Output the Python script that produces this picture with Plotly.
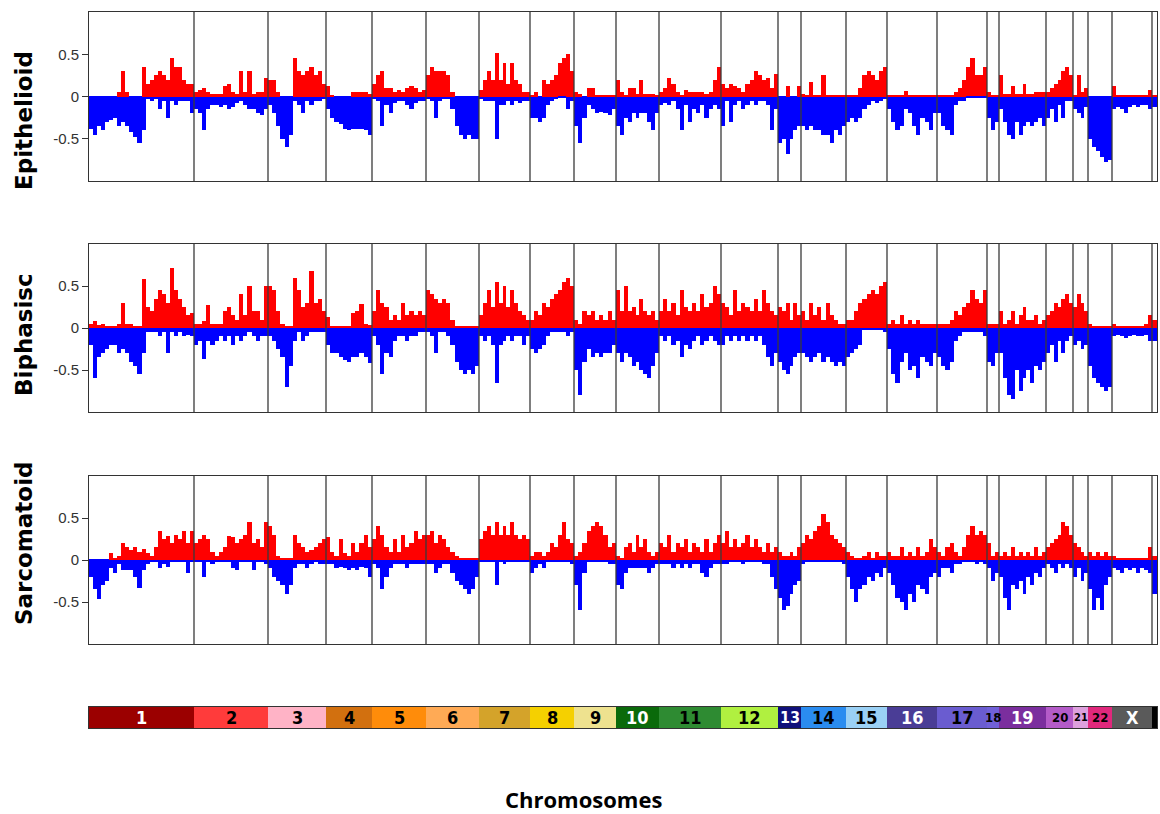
import plotly.graph_objects as go
from plotly.subplots import make_subplots

# ---------------- data ----------------
chromosomes = ["1", "2", "3", "4", "5", "6", "7", "8", "9", "10", "11", "12",
               "13", "14", "15", "16", "17", "18", "19", "20", "21", "22", "X", "Y"]
# relative length of each chromosome along the genome axis (probe units)
chrom_len = [105, 74, 58, 46, 54, 53, 51, 44, 42, 43, 62, 57,
             23, 45, 41, 50, 50, 12, 47, 27, 15, 24, 40, 5]
band_colors = ["#9B0000", "#FF3B3B", "#FFB3C6", "#D2700F", "#FF8C0A", "#FFAA55",
               "#D4A32A", "#F5D000", "#EEE28F", "#0A6A0A", "#2E8B32", "#B0F040",
               "#10107A", "#2A8CF0", "#9AD0F5", "#4A3D96", "#6A5CD0", "#7060D8",
               "#7B2E9E", "#B45BC8", "#DDA0DD", "#E0287C", "#5A5A5A", "#000000"]
band_labels = ["1", "2", "3", "4", "5", "6", "7", "8", "9", "10", "11", "12",
               "13", "14", "15", "16", "17", "18", "19", "20", "21", "22", "X", ""]
band_label_colors = ["white", "black", "black", "black", "black", "black", "black",
                     "black", "black", "white", "black", "black", "white", "black",
                     "black", "white", "black", "black", "white", "black", "black",
                     "black", "white", "white"]
band_label_sizes = [18, 18, 18, 18, 18, 18, 18, 18, 18, 18, 18, 18,
                    16, 18, 18, 18, 18, 13, 18, 13, 11, 13, 18, 18]

panel_names = ["Epithelioid", "Biphasisc", "Sarcomatoid"]
y_ticks = [-0.5, 0, 0.5]
y_tick_text = ["-0.5", "0", "0.5"]

# Epithelioid: per-chromosome gain / loss frequencies
epi_gain = [
    [0, 0, 0, 0, 0, 0, 0, 0.05, 0.3, 0.05, 0, 0, 0, 0.35, 0.15, 0.2, 0.25, 0.3, 0.25, 0.2, 0.45, 0.35, 0.35, 0.2, 0.15, 0.15],
    [0.05, 0.08, 0.1, 0.05, 0.03, 0.03, 0.03, 0.12, 0.15, 0.05, 0.03, 0.3, 0.05, 0.3, 0.03, 0.05, 0.05, 0.22],
    [0.2, 0.2, 0.05, 0, 0, 0, 0.45, 0.3, 0.25, 0.3, 0.35, 0.25, 0.3, 0.15],
    [0.12, 0.02, 0, 0, 0, 0, 0.05, 0.05, 0.05, 0.05, 0.03],
    [0.15, 0.25, 0.3, 0.1, 0.1, 0.05, 0.08, 0.05, 0.1, 0.12, 0.1, 0.05, 0.08],
    [0.25, 0.35, 0.3, 0.3, 0.3, 0.25, 0.05, 0, 0, 0, 0, 0, 0],
    [0.08, 0.2, 0.3, 0.2, 0.52, 0.2, 0.4, 0.15, 0.4, 0.2, 0.15, 0.05, 0.05],
    [0.02, 0.05, 0, 0.2, 0.15, 0.2, 0.25, 0.4, 0.45, 0.5, 0.3],
    [0.05, 0.03, 0, 0.1, 0.1, 0.02, 0.02, 0.02, 0.02, 0.02],
    [0.2, 0.05, 0.02, 0.1, 0.1, 0.03, 0.2, 0.03, 0.03, 0.03, 0.02],
    [0.05, 0.1, 0.22, 0.15, 0.05, 0.02, 0.08, 0.05, 0.05, 0.05, 0.05, 0.03, 0.05, 0.2, 0.35],
    [0.15, 0.1, 0.15, 0.12, 0.1, 0.05, 0.15, 0.2, 0.3, 0.25, 0.2, 0.22, 0.1, 0.27],
    [0, 0, 0.12, 0, 0, 0.12],
    [0.03, 0.02, 0.17, 0.02, 0.02, 0.25, 0.02, 0.02, 0.02, 0.02, 0.02],
    [0.02, 0.02, 0.02, 0.1, 0.25, 0.3, 0.25, 0.2, 0.3, 0.35],
    [0.02, 0.02, 0.02, 0.02, 0.07, 0.02, 0.02, 0.02, 0.02, 0.02, 0.02, 0.02],
    [0.02, 0.02, 0.02, 0.02, 0.05, 0.1, 0.2, 0.35, 0.45, 0.25, 0.25, 0.35],
    [0.05, 0.02, 0.02],
    [0.25, 0.03, 0.03, 0.12, 0.03, 0.03, 0.15, 0.03, 0.03, 0.05, 0.05, 0.05],
    [0.05, 0.1, 0.15, 0.2, 0.3, 0.35, 0.25],
    [0.02, 0.25, 0.05, 0.1],
    [0, 0, 0, 0, 0, 0],
    [0.12, 0.02, 0.02, 0.02, 0.02, 0.02, 0.02, 0.02, 0.02, 0.08],
    [0.02],
]
epi_loss = [
    [-0.38, -0.45, -0.35, -0.4, -0.3, -0.28, -0.25, -0.35, -0.3, -0.35, -0.42, -0.48, -0.55, -0.4, -0.03, -0.05, -0.03, -0.15, -0.05, -0.25, -0.05, -0.1, -0.05, -0.05, -0.05, -0.2],
    [-0.15, -0.2, -0.4, -0.15, -0.1, -0.1, -0.12, -0.1, -0.15, -0.12, -0.08, -0.05, -0.1, -0.15, -0.15, -0.2, -0.22, -0.15],
    [-0.1, -0.2, -0.35, -0.5, -0.6, -0.45, -0.05, -0.1, -0.2, -0.05, -0.1, -0.05, -0.05, -0.03],
    [-0.15, -0.25, -0.3, -0.33, -0.38, -0.4, -0.38, -0.38, -0.38, -0.4, -0.45],
    [-0.03, -0.05, -0.35, -0.1, -0.2, -0.08, -0.05, -0.05, -0.1, -0.15, -0.08, -0.05, -0.05],
    [-0.03, -0.05, -0.25, -0.05, -0.03, -0.03, -0.15, -0.35, -0.45, -0.5, -0.45, -0.5, -0.5],
    [-0.03, -0.05, -0.05, -0.05, -0.5, -0.1, -0.1, -0.05, -0.1, -0.05, -0.08, -0.05, -0.05],
    [-0.25, -0.25, -0.3, -0.25, -0.1, -0.05, -0.03, -0.02, -0.02, -0.15, -0.05],
    [-0.35, -0.55, -0.25, -0.1, -0.15, -0.2, -0.18, -0.2, -0.22, -0.15],
    [-0.35, -0.45, -0.25, -0.3, -0.2, -0.25, -0.2, -0.2, -0.3, -0.4, -0.2],
    [-0.1, -0.08, -0.1, -0.05, -0.15, -0.4, -0.1, -0.3, -0.15, -0.2, -0.1, -0.25, -0.15, -0.1, -0.15],
    [-0.35, -0.05, -0.3, -0.1, -0.05, -0.15, -0.1, -0.05, -0.1, -0.05, -0.05, -0.1, -0.4, -0.15],
    [-0.55, -0.5, -0.68, -0.5, -0.4, -0.35],
    [-0.35, -0.4, -0.35, -0.4, -0.4, -0.45, -0.45, -0.55, -0.4, -0.45, -0.35],
    [-0.3, -0.25, -0.3, -0.25, -0.15, -0.1, -0.05, -0.08, -0.05, -0.03],
    [-0.15, -0.3, -0.4, -0.35, -0.15, -0.2, -0.35, -0.45, -0.25, -0.3, -0.4, -0.2],
    [-0.2, -0.35, -0.4, -0.45, -0.1, -0.05, -0.05, -0.02, -0.02, -0.02, -0.02, -0.02],
    [-0.25, -0.4, -0.3],
    [-0.15, -0.3, -0.45, -0.5, -0.3, -0.45, -0.35, -0.3, -0.35, -0.3, -0.25, -0.35],
    [-0.25, -0.15, -0.3, -0.1, -0.25, -0.05, -0.05],
    [-0.15, -0.2, -0.25, -0.12],
    [-0.5, -0.6, -0.65, -0.72, -0.78, -0.75],
    [-0.15, -0.12, -0.15, -0.2, -0.12, -0.1, -0.12, -0.1, -0.1, -0.15],
    [-0.12],
]

# Biphasic
bi_gain = [
    [0.05, 0.08, 0.03, 0.05, 0.02, 0.02, 0.02, 0.05, 0.3, 0.05, 0.05, 0.02, 0.02, 0.58, 0.25, 0.2, 0.35, 0.45, 0.4, 0.3, 0.72, 0.45, 0.35, 0.25, 0.15, 0.18],
    [0.05, 0.05, 0.08, 0.27, 0.05, 0.05, 0.05, 0.2, 0.25, 0.15, 0.1, 0.4, 0.15, 0.5, 0.2, 0.2, 0.1, 0.5],
    [0.5, 0.45, 0.2, 0.05, 0.02, 0.02, 0.6, 0.45, 0.25, 0.3, 0.68, 0.3, 0.35, 0.2],
    [0.13, 0.02, 0.02, 0.02, 0.02, 0.02, 0.18, 0.2, 0.28, 0.05, 0.03],
    [0.2, 0.45, 0.3, 0.25, 0.1, 0.15, 0.1, 0.3, 0.15, 0.2, 0.15, 0.2, 0.15],
    [0.45, 0.4, 0.35, 0.3, 0.35, 0.3, 0.1, 0.02, 0.02, 0.02, 0.02, 0.02, 0.02],
    [0.15, 0.3, 0.45, 0.25, 0.55, 0.3, 0.5, 0.25, 0.45, 0.3, 0.2, 0.15, 0.1],
    [0.1, 0.2, 0.15, 0.3, 0.25, 0.35, 0.4, 0.45, 0.55, 0.6, 0.5],
    [0.1, 0.05, 0.2, 0.15, 0.2, 0.1, 0.15, 0.1, 0.2, 0.1],
    [0.45, 0.2, 0.5, 0.2, 0.25, 0.15, 0.35, 0.2, 0.15, 0.2, 0.1],
    [0.2, 0.35, 0.2, 0.3, 0.15, 0.45, 0.25, 0.2, 0.3, 0.2, 0.4, 0.25, 0.3, 0.5, 0.4],
    [0.3, 0.25, 0.15, 0.45, 0.2, 0.3, 0.25, 0.2, 0.35, 0.2, 0.45, 0.3, 0.2, 0.15],
    [0.25, 0.2, 0.3, 0.1, 0.3, 0.15],
    [0.2, 0.1, 0.3, 0.15, 0.25, 0.1, 0.3, 0.15, 0.1, 0.05, 0.05],
    [0.1, 0.1, 0.2, 0.3, 0.35, 0.4, 0.45, 0.4, 0.5, 0.55],
    [0.05, 0.1, 0.05, 0.15, 0.05, 0.1, 0.05, 0.1, 0.05, 0.05, 0.05, 0.05],
    [0.05, 0.05, 0.05, 0.1, 0.2, 0.15, 0.25, 0.3, 0.45, 0.35, 0.3, 0.45],
    [0.05, 0.05, 0.05],
    [0.2, 0.05, 0.1, 0.2, 0.05, 0.15, 0.25, 0.1, 0.1, 0.15, 0.05, 0.1],
    [0.15, 0.2, 0.3, 0.25, 0.35, 0.4, 0.3],
    [0.25, 0.4, 0.3, 0.2],
    [0.05, 0.02, 0.02, 0.02, 0.02, 0.02],
    [0.05, 0.02, 0.02, 0.02, 0.02, 0.02, 0.02, 0.02, 0.05, 0.15],
    [0.1],
]
bi_loss = [
    [-0.2, -0.6, -0.35, -0.3, -0.25, -0.2, -0.2, -0.3, -0.25, -0.3, -0.4, -0.45, -0.55, -0.3, -0.05, -0.05, -0.05, -0.1, -0.05, -0.3, -0.05, -0.1, -0.05, -0.1, -0.08, -0.1],
    [-0.2, -0.15, -0.37, -0.15, -0.2, -0.15, -0.1, -0.15, -0.1, -0.2, -0.1, -0.15, -0.1, -0.05, -0.1, -0.15, -0.1, -0.1],
    [-0.1, -0.15, -0.25, -0.35, -0.7, -0.45, -0.15, -0.05, -0.15, -0.1, -0.05, -0.05, -0.05, -0.05],
    [-0.2, -0.3, -0.3, -0.35, -0.38, -0.4, -0.35, -0.35, -0.3, -0.35, -0.42],
    [-0.1, -0.2, -0.55, -0.3, -0.35, -0.15, -0.1, -0.1, -0.15, -0.1, -0.1, -0.05, -0.05],
    [-0.05, -0.1, -0.3, -0.05, -0.05, -0.1, -0.2, -0.4, -0.5, -0.55, -0.5, -0.55, -0.45],
    [-0.1, -0.15, -0.1, -0.2, -0.65, -0.2, -0.15, -0.1, -0.15, -0.1, -0.1, -0.2, -0.1],
    [-0.25, -0.3, -0.25, -0.2, -0.1, -0.05, -0.05, -0.05, -0.05, -0.1, -0.05],
    [-0.5, -0.8, -0.4, -0.25, -0.35, -0.3, -0.35, -0.3, -0.3, -0.2],
    [-0.3, -0.4, -0.3, -0.35, -0.45, -0.4, -0.5, -0.55, -0.6, -0.45, -0.3],
    [-0.1, -0.15, -0.1, -0.2, -0.15, -0.35, -0.2, -0.25, -0.15, -0.1, -0.2, -0.15, -0.1, -0.15, -0.2],
    [-0.2, -0.1, -0.15, -0.1, -0.15, -0.1, -0.15, -0.1, -0.15, -0.1, -0.2, -0.35, -0.45, -0.3],
    [-0.4, -0.5, -0.55, -0.45, -0.35, -0.3],
    [-0.3, -0.35, -0.4, -0.35, -0.3, -0.4, -0.35, -0.4, -0.45, -0.4, -0.45],
    [-0.35, -0.3, -0.25, -0.2, -0.02, -0.02, -0.02, -0.02, -0.02, -0.05],
    [-0.25, -0.55, -0.65, -0.4, -0.3, -0.5, -0.45, -0.6, -0.35, -0.4, -0.45, -0.3],
    [-0.35, -0.45, -0.5, -0.4, -0.15, -0.1, -0.05, -0.05, -0.05, -0.05, -0.05, -0.1],
    [-0.4, -0.45, -0.3],
    [-0.3, -0.6, -0.8, -0.85, -0.5, -0.75, -0.6, -0.5, -0.65, -0.45, -0.5, -0.4],
    [-0.3, -0.2, -0.4, -0.15, -0.3, -0.15, -0.1],
    [-0.2, -0.15, -0.25, -0.2],
    [-0.45, -0.6, -0.65, -0.7, -0.75, -0.7],
    [-0.1, -0.08, -0.1, -0.12, -0.1, -0.08, -0.1, -0.1, -0.08, -0.15],
    [-0.15],
]

# Sarcomatoid
sar_gain = [
    [0, 0, 0, 0, 0, 0.08, 0.02, 0.05, 0.2, 0.15, 0.12, 0.15, 0.1, 0.13, 0.08, 0.05, 0.15, 0.35, 0.25, 0.28, 0.2, 0.3, 0.25, 0.35, 0.2, 0.35],
    [0.2, 0.25, 0.3, 0.25, 0.1, 0.05, 0.1, 0.15, 0.28, 0.27, 0.2, 0.25, 0.3, 0.45, 0.2, 0.25, 0.15, 0.45],
    [0.4, 0.3, 0.05, 0.02, 0.02, 0.02, 0.3, 0.2, 0.15, 0.1, 0.12, 0.15, 0.2, 0.25],
    [0.27, 0.1, 0.05, 0.25, 0.08, 0.05, 0.2, 0.1, 0.2, 0.3, 0.15],
    [0.25, 0.4, 0.3, 0.15, 0.1, 0.25, 0.1, 0.3, 0.15, 0.2, 0.35, 0.25, 0.3],
    [0.3, 0.35, 0.2, 0.3, 0.25, 0.15, 0.1, 0.05, 0.02, 0.02, 0.02, 0.02, 0.02],
    [0.25, 0.35, 0.4, 0.3, 0.45, 0.3, 0.4, 0.3, 0.45, 0.3, 0.25, 0.3, 0.25],
    [0.05, 0.1, 0.1, 0.05, 0.1, 0.2, 0.15, 0.3, 0.45, 0.25, 0.2],
    [0.05, 0.1, 0.2, 0.35, 0.4, 0.45, 0.4, 0.3, 0.15, 0.2],
    [0.05, 0.02, 0.15, 0.2, 0.1, 0.3, 0.15, 0.25, 0.1, 0.05, 0.1],
    [0.2, 0.15, 0.3, 0.1, 0.2, 0.15, 0.25, 0.1, 0.2, 0.15, 0.1, 0.25, 0.1, 0.2, 0.3],
    [0.2, 0.35, 0.15, 0.25, 0.15, 0.2, 0.3, 0.15, 0.25, 0.15, 0.1, 0.2, 0.1, 0.15],
    [0.1, 0.05, 0.05, 0.1, 0.05, 0.15],
    [0.2, 0.3, 0.25, 0.35, 0.4, 0.55, 0.45, 0.3, 0.25, 0.2, 0.15],
    [0.1, 0.05, 0.02, 0.02, 0.05, 0.1, 0.02, 0.1, 0.05, 0.05],
    [0.1, 0.05, 0.05, 0.15, 0.05, 0.1, 0.05, 0.15, 0.05, 0.1, 0.25, 0.15],
    [0.1, 0.05, 0.15, 0.2, 0.1, 0.05, 0.15, 0.3, 0.4, 0.3, 0.35, 0.3],
    [0.2, 0.05, 0.1],
    [0.05, 0.1, 0.05, 0.15, 0.05, 0.1, 0.05, 0.1, 0.05, 0.15, 0.05, 0.1],
    [0.15, 0.2, 0.25, 0.3, 0.45, 0.4, 0.3],
    [0.2, 0.15, 0.1, 0.05],
    [0.1, 0.05, 0.1, 0.05, 0.1, 0.05],
    [0.05, 0.02, 0.02, 0.02, 0.02, 0.02, 0.02, 0.02, 0.02, 0.15],
    [0.05],
]
sar_loss = [
    [-0.2, -0.35, -0.47, -0.3, -0.25, -0.1, -0.15, -0.05, -0.12, -0.12, -0.12, -0.2, -0.33, -0.12, -0.05, -0.02, -0.02, -0.1, -0.05, -0.08, -0.02, -0.02, -0.02, -0.02, -0.15, -0.02],
    [-0.02, -0.02, -0.2, -0.02, -0.05, -0.02, -0.02, -0.02, -0.02, -0.1, -0.12, -0.02, -0.02, -0.02, -0.12, -0.02, -0.02, -0.05],
    [-0.1, -0.2, -0.25, -0.3, -0.4, -0.3, -0.1, -0.05, -0.05, -0.1, -0.05, -0.02, -0.05, -0.05],
    [-0.05, -0.05, -0.1, -0.08, -0.1, -0.12, -0.1, -0.12, -0.08, -0.1, -0.2],
    [-0.05, -0.1, -0.35, -0.2, -0.1, -0.05, -0.05, -0.05, -0.1, -0.05, -0.05, -0.05, -0.05],
    [-0.05, -0.05, -0.15, -0.1, -0.05, -0.05, -0.15, -0.25, -0.3, -0.35, -0.4, -0.35, -0.2],
    [-0.02, -0.02, -0.02, -0.02, -0.3, -0.02, -0.05, -0.02, -0.02, -0.02, -0.02, -0.02, -0.02],
    [-0.15, -0.1, -0.05, -0.1, -0.02, -0.02, -0.02, -0.02, -0.02, -0.02, -0.05],
    [-0.3, -0.6, -0.15, -0.02, -0.02, -0.02, -0.02, -0.02, -0.05, -0.05],
    [-0.3, -0.35, -0.15, -0.1, -0.1, -0.1, -0.1, -0.1, -0.15, -0.1, -0.05],
    [-0.05, -0.05, -0.05, -0.1, -0.05, -0.1, -0.05, -0.1, -0.05, -0.05, -0.15, -0.2, -0.1, -0.05, -0.05],
    [-0.05, -0.05, -0.02, -0.02, -0.02, -0.05, -0.02, -0.02, -0.02, -0.02, -0.05, -0.05, -0.2, -0.35],
    [-0.45, -0.6, -0.55, -0.4, -0.3, -0.25],
    [-0.05, -0.02, -0.02, -0.02, -0.02, -0.02, -0.02, -0.02, -0.02, -0.02, -0.05],
    [-0.2, -0.35, -0.5, -0.35, -0.3, -0.2, -0.25, -0.15, -0.2, -0.1],
    [-0.15, -0.3, -0.45, -0.5, -0.6, -0.4, -0.5, -0.3, -0.35, -0.4, -0.2, -0.15],
    [-0.2, -0.1, -0.1, -0.15, -0.05, -0.05, -0.02, -0.02, -0.02, -0.05, -0.02, -0.05],
    [-0.1, -0.25, -0.15],
    [-0.2, -0.45, -0.6, -0.3, -0.35, -0.25, -0.4, -0.2, -0.3, -0.15, -0.2, -0.1],
    [-0.05, -0.1, -0.15, -0.05, -0.1, -0.05, -0.1],
    [-0.2, -0.1, -0.25, -0.15],
    [-0.35, -0.6, -0.45, -0.6, -0.3, -0.2],
    [-0.1, -0.12, -0.15, -0.1, -0.12, -0.1, -0.15, -0.1, -0.12, -0.15],
    [-0.4],
]

panels = [(epi_gain, epi_loss), (bi_gain, bi_loss), (sar_gain, sar_loss)]

# ---------------- geometry helpers ----------------
starts = []
acc = 0
for L in chrom_len:
    starts.append(acc)
    acc += L
genome_len = acc
centers = [s + L / 2 for s, L in zip(starts, chrom_len)]


def binned(values_by_chrom):
    xs, ws, ys = [], [], []
    for c, vals in enumerate(values_by_chrom):
        w = chrom_len[c] / len(vals)
        for i, v in enumerate(vals):
            xs.append(starts[c] + (i + 0.5) * w)
            ws.append(w)
            ys.append(v)
    return xs, ws, ys


W, H = 1160, 814
m_l, m_r, m_t, m_b = 89, 3, 12, 86
ph = H - m_t - m_b


def dom(top_px, bot_px):
    return [(H - m_b - bot_px) / ph, (H - m_b - top_px) / ph]


domains = [dom(12, 181), dom(244, 412), dom(476, 644), dom(707, 728)]

fig = make_subplots(rows=4, cols=1, shared_xaxes=True, vertical_spacing=0.02)

for r, (g, l) in enumerate(panels, start=1):
    gx, gw, gy = binned(g)
    lx, lw, ly = binned(l)
    fig.add_trace(go.Bar(x=gx, y=gy, width=gw, marker=dict(color="#FF0000", line=dict(width=0)),
                         showlegend=False, hoverinfo="skip"), row=r, col=1)
    fig.add_trace(go.Bar(x=lx, y=ly, width=lw, marker=dict(color="#0000FF", line=dict(width=0)),
                         showlegend=False, hoverinfo="skip"), row=r, col=1)
    for s in starts[1:]:
        fig.add_vline(x=s, line=dict(color="#3a3a3a", width=1.3), row=r, col=1)

# chromosome colour band
fig.add_trace(go.Bar(x=centers, y=[1] * len(centers), width=chrom_len,
                     marker=dict(color=band_colors, line=dict(width=0)),
                     showlegend=False, hoverinfo="skip"), row=4, col=1)

for i in range(4):
    sfx = "" if i == 0 else str(i + 1)
    fig.layout["xaxis" + sfx].update(domain=[0, 1], range=[0, genome_len], showticklabels=False,
                                     ticks="", showgrid=False, zeroline=False, showline=True,
                                     mirror=True, linecolor="#333333", linewidth=1)
    ya = dict(domain=domains[i], showgrid=False, showline=True, mirror=True,
              linecolor="#333333", linewidth=1)
    if i < 3:
        ya.update(range=[-1, 1], tickvals=y_ticks, ticktext=y_tick_text, ticks="outside",
                  ticklen=6, tickcolor="#333333", tickwidth=1,
                  tickfont=dict(family="Liberation Sans", size=15, color="#333333"),
                  zeroline=True, zerolinecolor="#0000FF", zerolinewidth=2)
    else:
        ya.update(range=[0, 1], showticklabels=False, ticks="", zeroline=False)
    fig.layout["yaxis" + sfx].update(**ya)

annotations = []
title_y_px = [121, 335, 543]
for name, ypx in zip(panel_names, title_y_px):
    annotations.append(dict(text=name, xref="paper", yref="paper",
                            x=(24 - m_l) / (W - m_l - m_r), y=(H - m_b - ypx) / ph,
                            xanchor="center", yanchor="middle", textangle=-90, showarrow=False,
                            font=dict(family="DejaVu Sans", size=23, color="black", weight="bold")))
for lab, cx, col, fs in zip(band_labels, centers, band_label_colors, band_label_sizes):
    if lab:
        annotations.append(dict(text=lab, xref="x4", yref="y4", x=cx, y=0.5,
                                xanchor="center", yanchor="middle", showarrow=False,
                                font=dict(family="Liberation Sans Narrow, DejaVu Sans Condensed, Liberation Sans",
                                          size=fs, color=col, weight="bold")))
annotations.append(dict(text="Chromosomes", xref="paper", yref="paper",
                        x=(583 - m_l) / (W - m_l - m_r), y=(H - m_b - 799) / ph,
                        xanchor="center", yanchor="middle", showarrow=False,
                        font=dict(family="Open Sans", size=22, color="black", weight="bold")))

fig.update_layout(width=W, height=H, margin=dict(l=m_l, r=m_r, t=m_t, b=m_b),
                  paper_bgcolor="white", plot_bgcolor="white", barmode="overlay",
                  bargap=0, annotations=annotations, showlegend=False)

fig.write_html("out.html")
